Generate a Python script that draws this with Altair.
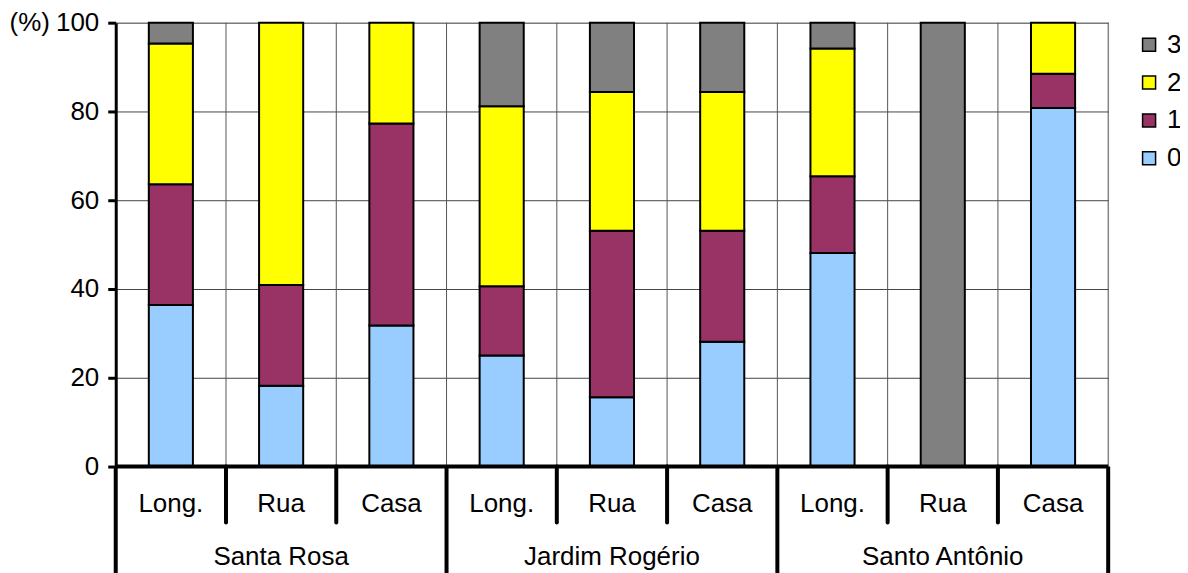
import altair as alt
import pandas as pd

groups = ["Santa Rosa", "Jardim Rogério", "Santo Antônio"]
subcats = ["Long.", "Rua", "Casa"]
levels = ["0", "1", "2", "3"]
colors = ["#99CCFF", "#993366", "#FFFF00", "#808080"]
level0 = [36.4, 18.2, 31.8, 25.0, 15.6, 28.1, 48.1, 0.0, 80.8]
level1 = [27.2, 22.7, 45.5, 15.6, 37.5, 25.0, 17.3, 0.0, 7.7]
level2 = [31.7, 59.1, 22.7, 40.6, 31.3, 31.3, 28.8, 0.0, 11.5]
level3 = [4.7, 0.0, 0.0, 18.8, 15.6, 15.6, 5.8, 100.0, 0.0]
y_ticks = [0, 20, 40, 60, 80, 100]

FONT = "Liberation Sans"
FS = 26
n_sub = len(subcats)
n_cat = len(groups) * n_sub

rows = []
series = [level0, level1, level2, level3]
for lvl, vals in enumerate(series):
    for i, v in enumerate(vals):
        if v > 0:
            rows.append({"idx": i, "lvl": lvl, "level": levels[lvl], "value": v})
bars_df = pd.DataFrame(rows)

sub_df = pd.DataFrame({"idx": list(range(n_cat)),
                       "label": [subcats[i % n_sub] for i in range(n_cat)]})
grp_df = pd.DataFrame({"g": list(range(len(groups))), "label": groups})
inner_df = pd.DataFrame({"b": list(range(1, n_cat + 1))})
small_df = pd.DataFrame({"b": [b for b in range(1, n_cat) if b % n_sub != 0]})
big_df = pd.DataFrame({"b": list(range(0, n_cat + 1, n_sub))})

xscale = alt.Scale(domain=[0, n_cat], nice=False, zero=False)
yscale = alt.Scale(domain=[0, 100], nice=False)

grid_v = alt.Chart(inner_df).mark_rule(color="#555555", strokeWidth=1).encode(
    x=alt.X("b:Q", scale=xscale, axis=None),
    y=alt.value(0), y2=alt.value(445))

bars = alt.Chart(bars_df).transform_stack(
    stack="value", groupby=["idx"], as_=["y0", "y1"],
    sort=[alt.SortField("lvl", order="ascending")]
).transform_calculate(
    xa="datum.idx + 0.3", xb="datum.idx + 0.7"
).mark_bar(stroke="black", strokeWidth=2).encode(
    x=alt.X("xa:Q", scale=xscale, axis=None),
    x2="xb:Q",
    y=alt.Y("y0:Q", scale=yscale, axis=alt.Axis(
        values=y_ticks, grid=True, gridColor="#444444", gridWidth=1,
        domainColor="black", domainWidth=3, tickColor="black", tickWidth=3,
        tickSize=8, labelFontSize=FS, labelColor="black", labelPadding=9,
        labelFont=FONT, title="(%)", titleAngle=0, titleAlign="left",
        titleBaseline="middle", titleX=-107, titleY=0, titleFontSize=FS,
        titleFontWeight="normal", titleColor="black", titleFont=FONT)),
    y2="y1:Q",
    color=alt.Color("level:N", scale=alt.Scale(domain=levels[::-1], range=colors[::-1]),
                    legend=alt.Legend(title=None, orient="none", legendX=1023, legendY=9,
                                      symbolType="square", symbolSize=170,
                                      symbolStrokeColor="black", symbolStrokeWidth=1.5,
                                      labelFontSize=FS, labelFont=FONT, labelColor="black",
                                      rowPadding=12, labelOffset=5)),
)

xaxis_line = alt.Chart(pd.DataFrame({"a": [0], "b": [n_cat]})).mark_rule(
    color="black", strokeWidth=4).encode(
    x=alt.X("a:Q", scale=xscale, axis=None), x2="b:Q", y=alt.value(445))

small_sep = alt.Chart(small_df).mark_rule(color="black", strokeWidth=4, strokeCap="round").encode(
    x=alt.X("b:Q", scale=xscale, axis=None), y=alt.value(445), y2=alt.value(501))

big_sep = alt.Chart(big_df).mark_rule(color="black", strokeWidth=4).encode(
    x=alt.X("b:Q", scale=xscale, axis=None), y=alt.value(445), y2=alt.value(640))

sub_text = alt.Chart(sub_df).transform_calculate(xc="datum.idx + 0.5").mark_text(
    font=FONT, fontSize=FS, color="black", baseline="alphabetic").encode(
    x=alt.X("xc:Q", scale=xscale, axis=None), y=alt.value(491), text="label:N")

grp_text = alt.Chart(grp_df).transform_calculate(xc=f"datum.g * {n_sub} + {n_sub / 2}").mark_text(
    font=FONT, fontSize=FS, color="black", baseline="alphabetic").encode(
    x=alt.X("xc:Q", scale=xscale, axis=None), y=alt.value(544), text="label:N")

chart = alt.layer(grid_v, bars, xaxis_line, small_sep, big_sep, sub_text, grp_text).properties(
    width=995, height=445,
    autosize=alt.AutoSizeParams(type="none"),
    padding={"left": 108, "top": 14, "right": 72, "bottom": 106},
).configure_view(stroke=None).configure(font=FONT)

chart.save("out.html", embed_options={"renderer": "svg", "actions": False})
